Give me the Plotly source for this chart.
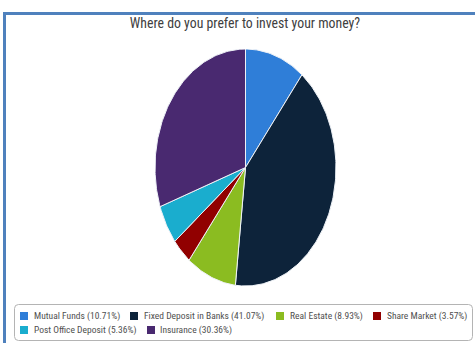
import numpy as np
import plotly.graph_objects as go

# Survey answers (respondent counts) for each investment option
categories = ["Mutual Funds", "Fixed Deposit in Banks", "Real Estate",
              "Share Market", "Post Office Deposit", "Insurance"]
counts = [6, 23, 5, 2, 3, 17]
colors = ["#2f7ed8", "#0d233a", "#8bbc21", "#910000", "#1aadce", "#492970"]
title_text = "Where do you prefer to invest your money?"

W, H = 475, 343
FONT = "Roboto Condensed, Roboto, sans-serif"

total = sum(counts)
shares = [100.0 * c / total for c in counts]
labels = [f"{c} ({s:.2f}%)" for c, s in zip(categories, shares)]


def px(x):
    return x / W


def py(y):
    return 1 - y / H


fig = go.Figure()

# Pie slices drawn as filled wedges, clockwise from 12 o'clock
start = 0.0
for cat, val, share, col in zip(categories, counts, shares, colors):
    sweep = 2 * np.pi * val / total
    n = max(4, int(np.degrees(sweep)) + 2)
    th = np.linspace(start, start + sweep, n)
    xs = np.concatenate([[0.0], np.sin(th), [0.0]])
    ys = np.concatenate([[0.0], np.cos(th), [0.0]])
    fig.add_trace(go.Scatter(
        x=xs, y=ys, mode="lines", fill="toself", fillcolor=col,
        line=dict(color="#eef2f7", width=1), name=cat, showlegend=False,
        hoveron="fills", hoverinfo="text", text=f"{cat}: {share:.2f}%",
    ))
    start += sweep

# Legend entries: swatch x, text x, row centre y (pixels)
legend_pos = [(20, 33, 316), (130, 143, 316), (276, 289, 316), (373, 386, 316),
              (20, 33, 330), (147, 159, 330)]

shapes = []
annotations = []
for (sx, tx, ry), lab, col in zip(legend_pos, labels, colors):
    shapes.append(dict(type="rect", xref="paper", yref="paper",
                       x0=px(sx), x1=px(sx + 8), y0=py(ry + 4), y1=py(ry - 4),
                       fillcolor=col, line=dict(width=0)))
    annotations.append(dict(text=lab, xref="paper", yref="paper",
                            x=px(tx - 1), y=py(ry), xanchor="left", yanchor="middle",
                            showarrow=False,
                            font=dict(family=FONT, size=9.5, color="#505050")))

# Rounded legend frame
x0, x1, y0, y1, r = 14.5, 472.5, 304.5, 340.5, 4
path = (f"M {px(x0 + r)} {py(y0)} L {px(x1 - r)} {py(y0)} "
        f"Q {px(x1)} {py(y0)} {px(x1)} {py(y0 + r)} L {px(x1)} {py(y1 - r)} "
        f"Q {px(x1)} {py(y1)} {px(x1 - r)} {py(y1)} L {px(x0 + r)} {py(y1)} "
        f"Q {px(x0)} {py(y1)} {px(x0)} {py(y1 - r)} L {px(x0)} {py(y0 + r)} "
        f"Q {px(x0)} {py(y0)} {px(x0 + r)} {py(y0)} Z")
shapes.append(dict(type="path", xref="paper", yref="paper", path=path,
                   line=dict(color="#b4b4b4", width=1)))

# Outer blue frame (top and left edges)
shapes.append(dict(type="line", xref="paper", yref="paper",
                   x0=px(4.5), x1=px(4.5), y0=0, y1=py(12), line=dict(color="#4f81bd", width=3)))
shapes.append(dict(type="line", xref="paper", yref="paper",
                   x0=px(3), x1=1, y0=py(13.5), y1=py(13.5), line=dict(color="#4f81bd", width=3)))

fig.update_layout(
    width=W, height=H,
    margin=dict(l=0, r=0, t=0, b=0),
    paper_bgcolor="white", plot_bgcolor="white",
    showlegend=False,
    title=dict(text=title_text, x=px(245), y=py(23), xanchor="center", yanchor="middle",
               font=dict(family=FONT, size=13.8, color="#404040")),
    xaxis=dict(domain=[px(155), px(336)], range=[-1, 1], visible=False, fixedrange=True),
    yaxis=dict(domain=[py(286), py(49)], range=[-1, 1], visible=False, fixedrange=True),
    shapes=shapes,
    annotations=annotations,
)

fig.write_html("out.html")
